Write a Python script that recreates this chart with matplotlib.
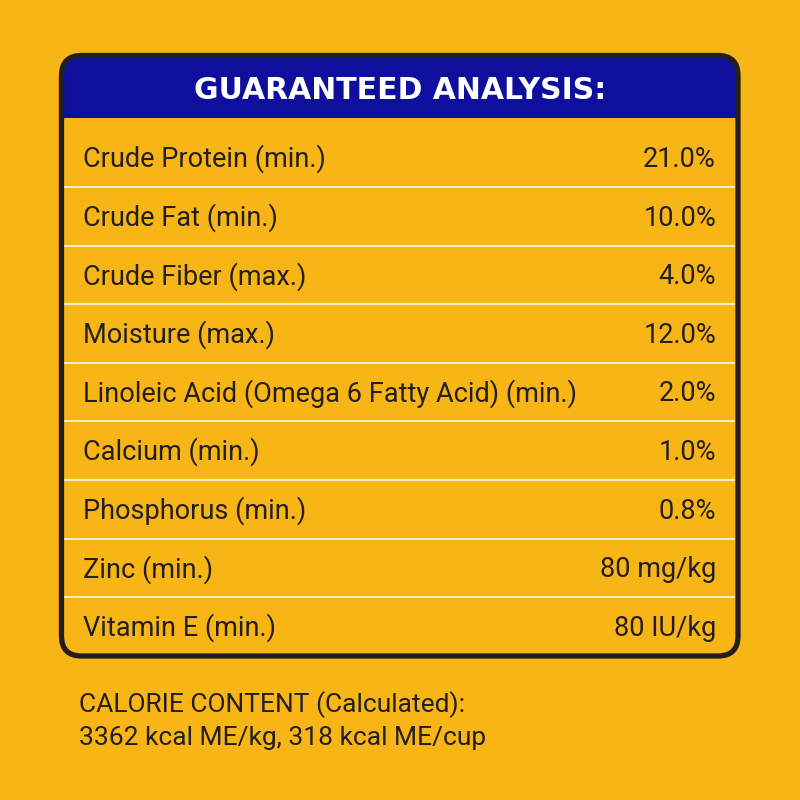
import matplotlib
matplotlib.use('Agg')

import matplotlib.pyplot as plt
from matplotlib.patches import FancyBboxPatch, Rectangle

# table content
title = 'GUARANTEED ANALYSIS:'
nutrients = [
    'Crude Protein (min.)', 'Crude Fat (min.)', 'Crude Fiber (max.)',
    'Moisture (max.)', 'Linoleic Acid (Omega 6 Fatty Acid) (min.)',
    'Calcium (min.)', 'Phosphorus (min.)', 'Zinc (min.)', 'Vitamin E (min.)'
]
amounts = ['21.0%', '10.0%', '4.0%', '12.0%', '2.0%', '1.0%', '0.8%',
           '80 mg/kg', '80 IU/kg']
calorie_lines = ['CALORIE CONTENT (Calculated):',
                 '3362 kcal ME/kg, 318 kcal ME/cup']

ORANGE = '#F8B516'
BLUE = '#0E0F9C'
DARK = '#231F20'
LINE = '#FFF4D6'

body_font = ['Roboto', 'DejaVu Sans']
head_font = ['DejaVu Sans']

fig = plt.figure(figsize=(8, 8), dpi=100, facecolor=ORANGE)
ax = fig.add_axes([0, 0, 1, 1])
ax.set_xlim(0, 800)
ax.set_ylim(800, 0)
ax.set_facecolor(ORANGE)
ax.axis('off')

x0, x1, y0, y1 = 61.5, 738, 55.5, 656
head_bottom = 118

# header fill (rounded), then body fill hides the lower part
ax.add_patch(FancyBboxPatch((x0, y0), x1 - x0, y1 - y0,
                            boxstyle='round,pad=0,rounding_size=20',
                            facecolor=BLUE, edgecolor='none', zorder=1))
ax.add_patch(Rectangle((x0 - 3, head_bottom), x1 - x0 + 6, y1 - head_bottom + 6,
                       facecolor=ORANGE, edgecolor='none', zorder=2))

ax.text(400, 99, title, color='white', fontsize=21.5, fontweight='bold',
        family=head_font, ha='center', va='baseline', zorder=5)

step = 58.6
for i, (name, amt) in enumerate(zip(nutrients, amounts)):
    base = 167 + step * i
    ax.text(83, base, name, color=DARK, fontsize=19.5, family=body_font,
            ha='left', va='baseline', zorder=5)
    ax.text(716, base, amt, color=DARK, fontsize=19.5, family=body_font,
            ha='right', va='baseline', zorder=5)
    if i < len(nutrients) - 1:
        ax.plot([x0 + 2, x1 - 2], [base + 20, base + 20], color=LINE,
                lw=1.3, solid_capstyle='butt', zorder=3)

# outline on top
ax.add_patch(FancyBboxPatch((x0, y0), x1 - x0, y1 - y0,
                            boxstyle='round,pad=0,rounding_size=20',
                            facecolor='none', edgecolor=DARK, lw=3.8, zorder=6))

ax.text(79, 712, calorie_lines[0], color=DARK, fontsize=19, family=body_font,
        ha='left', va='baseline')
ax.text(79, 745, calorie_lines[1], color=DARK, fontsize=19, family=body_font,
        ha='left', va='baseline')

fig.savefig('out.png', dpi=100, facecolor=ORANGE)
